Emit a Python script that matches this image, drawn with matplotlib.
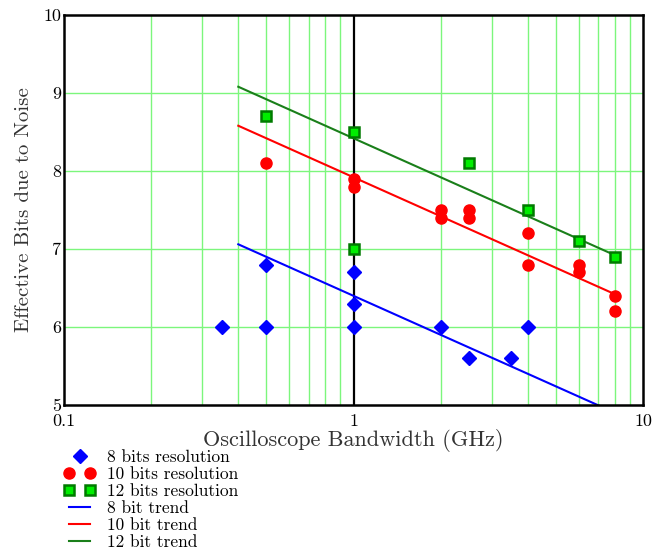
import matplotlib
matplotlib.use("Agg")
import matplotlib.pyplot as plt
from matplotlib.legend_handler import HandlerLine2D

plt.rcParams['font.family'] = 'serif'
plt.rcParams['font.serif'] = ['cmr10', 'DejaVu Serif']
plt.rcParams['mathtext.fontset'] = 'cm'
plt.rcParams['axes.unicode_minus'] = False

# Data
x8 = [0.35, 0.5, 0.5, 1, 1, 1, 2, 2.5, 3.5, 4]
y8 = [6.0, 6.8, 6.0, 6.7, 6.3, 6.0, 6.0, 5.6, 5.6, 6.0]
x10 = [0.5, 1, 1, 2, 2, 2.5, 2.5, 4, 4, 6, 6, 8, 8]
y10 = [8.1, 7.9, 7.8, 7.5, 7.4, 7.5, 7.4, 7.2, 6.8, 6.8, 6.7, 6.4, 6.2]
x12 = [0.5, 1, 1, 2.5, 4, 6, 8]
y12 = [8.7, 8.5, 7.0, 8.1, 7.5, 7.1, 6.9]
trend_x = [0.4, 8]
trend8 = [7.06, 4.90]
trend10 = [8.58, 6.42]
trend12 = [9.08, 6.92]
xticks = [0.1, 1, 10]
xticklabels = ['0.1', '1', '10']
yticks = [5, 6, 7, 8, 9, 10]
yticklabels = ['5', '6', '7', '8', '9', '10']

fig = plt.figure(figsize=(6.53, 5.55), dpi=100)
ax = fig.add_axes([0.098, 0.2703, 0.8867, 0.7027])
ax.set_xscale('log')
ax.set_xlim(0.1, 10)
ax.set_ylim(5, 10)

gridc = '#7cf67c'
for v in [0.2, 0.3, 0.4, 0.5, 0.6, 0.7, 0.8, 0.9, 2, 3, 4, 5, 6, 7, 8, 9]:
    ax.axvline(v, color=gridc, lw=1.0, zorder=0)
for v in [6, 7, 8, 9]:
    ax.axhline(v, color=gridc, lw=1.0, zorder=0)
ax.axvline(1, color='black', lw=1.6, zorder=1)

h8, = ax.plot(x8, y8, 'D', color='#0000ff', ms=7, mec='#0000ff', ls='none', zorder=3, label='8 bits resolution')
h10, = ax.plot(x10, y10, 'o', color='#ff0000', ms=8, mec='#ff0000', ls='none', zorder=3, label='10 bits resolution')
h12, = ax.plot(x12, y12, 's', mfc='#00ee00', mec='#007a00', mew=1.8, ms=7.5, ls='none', zorder=3, label='12 bits resolution')
t8, = ax.plot(trend_x, trend8, '-', color='#0000ff', lw=1.5, zorder=2, label='8 bit trend')
t10, = ax.plot(trend_x, trend10, '-', color='#ff0000', lw=1.5, zorder=2, label='10 bit trend')
t12, = ax.plot(trend_x, trend12, '-', color='#1a7f1a', lw=1.5, zorder=2, label='12 bit trend')

ax.set_xticks(xticks)
ax.set_xticklabels(xticklabels)
ax.xaxis.set_minor_locator(matplotlib.ticker.NullLocator())
ax.set_yticks(yticks)
ax.set_yticklabels(yticklabels)
ax.tick_params(length=0, labelsize=13, pad=2)
ax.tick_params(axis='x', pad=6)
for s in ax.spines.values():
    s.set_linewidth(1.8)
    s.set_color('black')

ax.set_xlabel('Oscilloscope Bandwidth (GHz)', fontsize=16, labelpad=0, color='#333333')
ax.set_ylabel('Effective Bits due to Noise', fontsize=15, labelpad=7, color='#333333')

leg = ax.legend(handles=[h8, h10, h12, t8, t10, t12], loc='upper left',
                bbox_to_anchor=(-0.012, -0.097), frameon=False, fontsize=12.5,
                numpoints=2, handlelength=1.8, handletextpad=0.7, labelspacing=0.1,
                borderaxespad=0, handler_map={h8: HandlerLine2D(numpoints=1)})

fig.savefig('out.png', dpi=100)
